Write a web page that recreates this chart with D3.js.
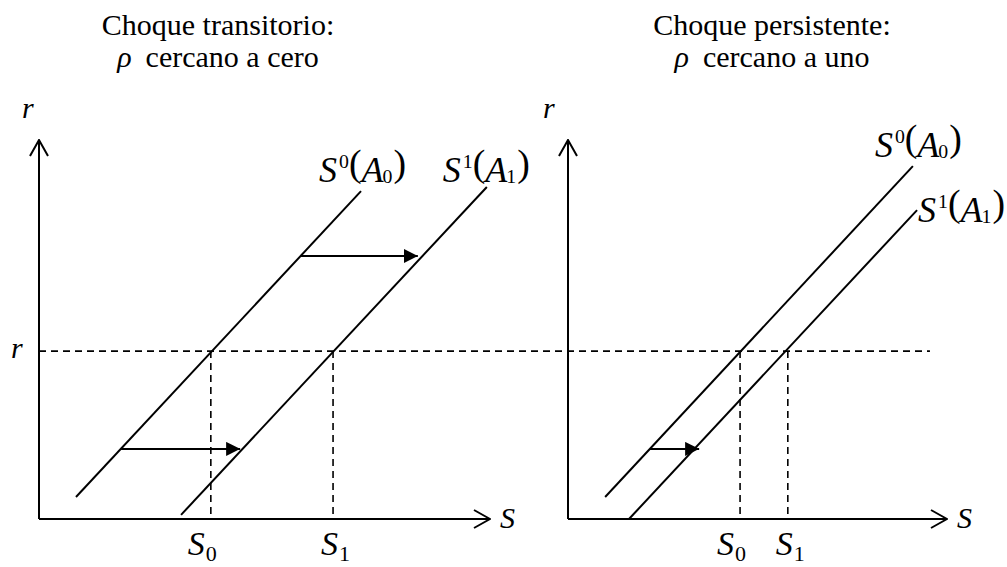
<!DOCTYPE html>
<html lang="es">
<head>
    <meta charset="UTF-8">
    <title>Choque transitorio vs persistente</title>
    <style>
        body { margin: 0; background: #fff; }
        .curve { fill: none; stroke: #000; stroke-width: 2; }
        .axis-line { fill: none; stroke: #000; stroke-width: 2; }
        .guide { fill: none; stroke: #000; stroke-width: 1.6; stroke-dasharray: 7,5; }
        .shift { fill: none; stroke: #000; stroke-width: 2; }
    </style>
</head>
<body>
    <svg width="1007" height="567"></svg>
    <script src="https://cdn.jsdelivr.net/npm/d3@7"></script>
    <script>
        // panel titles
        const titleTop = ["Choque transitorio:", "Choque persistente:"];
        const titleBottom = ["cercano a cero", "cercano a uno"];

        // interest rate level (same for both panels), axis units 0..100
        const rLevel = 44.3;

        // savings curves, [S, r] end points, one entry per panel
        const curveS0 = [[[8.2, 5.8], [71.4, 86.5]], [[9.8, 5.8], [91.0, 93.1]]];
        const curveS1 = [[[31.5, 1.1], [99.3, 87.6]], [[16.1, 0.0], [92.1, 81.5]]];

        // horizontal shift arrows: start S, end S, level r
        const shifts = [
            [{s0: 18.2, s1: 44.6, r: 18.5}, {s0: 58.1, s1: 84.0, r: 69.4}],
            [{s0: 21.6, s1: 34.6, r: 18.5}]
        ];

        // equilibrium savings S0, S1
        const eqS = [[38.1, 65.2], [45.4, 58.0]];

        // where the dashed r line stops in the right panel
        const rLineEnd = 95.5;

        const FONT = "\"Liberation Serif\", \"Times New Roman\", serif";
        const svg = d3.select("svg");

        const panelX = [[39, 490], [568, 947]];
        const y = d3.scaleLinear().domain([0, 100]).range([519, 140]);
        const xs = panelX.map(r => d3.scaleLinear().domain([0, 100]).range(r));

        const defs = svg.append("defs");
        defs.append("marker")
            .attr("id", "open")
            .attr("viewBox", "0 0 18 20")
            .attr("refX", 17).attr("refY", 10)
            .attr("markerWidth", 18).attr("markerHeight", 20)
            .attr("markerUnits", "userSpaceOnUse")
            .attr("orient", "auto")
            .append("path")
            .attr("d", "M1,1 L17,10 L1,19")
            .attr("fill", "none").attr("stroke", "#000").attr("stroke-width", 2);
        defs.append("marker")
            .attr("id", "solid")
            .attr("viewBox", "0 0 14 14")
            .attr("refX", 14).attr("refY", 7)
            .attr("markerWidth", 14).attr("markerHeight", 14)
            .attr("markerUnits", "userSpaceOnUse")
            .attr("orient", "auto")
            .append("path")
            .attr("d", "M0,0 L14,7 L0,14 Z")
            .attr("fill", "#000");

        const line = d3.line();

        function addText(x0, y0, size) {
            return svg.append("text")
                .attr("x", x0).attr("y", y0)
                .style("font-family", FONT)
                .style("font-size", size + "px");
        }

        // dashed r line across both panels
        svg.append("path")
            .attr("class", "guide")
            .attr("d", line([[xs[0](0), y(rLevel)], [xs[1](rLineEnd), y(rLevel)]]));

        // math label like S^0(A_0)
        function curveLabel(x0, y0, k) {
            const sz = 36;
            const t = addText(x0, y0, sz);
            t.append("tspan").style("font-style", "italic").text("S");
            t.append("tspan").style("font-size", sz * 0.55 + "px").attr("dx", 2).attr("dy", -sz * 0.4).text(k);
            t.append("tspan").style("font-size", sz * 1.05 + "px").attr("dx", 0).attr("dy", sz * 0.4 - sz * 0.18).text("(");
            t.append("tspan").style("font-style", "italic").attr("dy", sz * 0.18).text("A");
            t.append("tspan").style("font-size", sz * 0.55 + "px").attr("dx", -1).attr("dy", sz * 0.02).text(k);
            t.append("tspan").style("font-size", sz * 1.05 + "px").attr("dx", 1).attr("dy", -sz * 0.02 - sz * 0.18).text(")");
        }

        function subLabel(x0, y0, k) {
            const t = addText(x0, y0, 34);
            t.append("tspan").style("font-style", "italic").text("S");
            t.append("tspan").style("font-size", "22px").attr("dx", 1).attr("dy", 6).text(k);
        }

        const titleX = [218, 772];
        const labelPos = [
            [[-42, -9], [-44, -5]],
            [[-38, -9], [1, 12]]
        ];
        const rLabelX = [-17, -25];

        xs.forEach((x, i) => {
            // titles
            addText(titleX[i], 35, 30).style("text-anchor", "middle").text(titleTop[i]);
            const t2 = addText(titleX[i], 67, 30).style("text-anchor", "middle");
            t2.append("tspan").style("font-style", "italic").text("\u03C1");
            t2.append("tspan").attr("dx", 14).text(titleBottom[i]);

            // axes
            svg.append("path").attr("class", "axis-line")
                .attr("marker-end", "url(#open)")
                .attr("d", line([[x(0), y(0)], [x(0), y(100)]]));
            svg.append("path").attr("class", "axis-line")
                .attr("marker-end", "url(#open)")
                .attr("d", line([[x(0), y(0)], [x(100), y(0)]]));

            addText(x(0) + rLabelX[i], 118, 30).style("font-style", "italic").text("r");
            addText(x(100) + 10, y(0) + 9, 30).style("font-style", "italic").text("S");

            // savings curves
            [curveS0[i], curveS1[i]].forEach(c => {
                svg.append("path").attr("class", "curve")
                    .attr("d", line(c.map(p => [x(p[0]), y(p[1])])));
            });
            const top0 = curveS0[i][1], top1 = curveS1[i][1];
            curveLabel(x(top0[0]) + labelPos[i][0][0], y(top0[1]) + labelPos[i][0][1], "0");
            curveLabel(x(top1[0]) + labelPos[i][1][0], y(top1[1]) + labelPos[i][1][1], "1");

            // equilibrium guides
            eqS[i].forEach((s, j) => {
                svg.append("path").attr("class", "guide")
                    .attr("d", line([[x(s), y(rLevel)], [x(s), y(0)]]));
                subLabel(x(s) + (j === 0 ? -23 : -12), 555, String(j));
            });

            // shift arrows
            shifts[i].forEach(a => {
                svg.append("path").attr("class", "shift")
                    .attr("marker-end", "url(#solid)")
                    .attr("d", line([[x(a.s0), y(a.r)], [x(a.s1), y(a.r)]]));
            });
        });

        // r label on the dashed line
        addText(11, y(rLevel) + 7, 30).style("font-style", "italic").text("r");
    </script>
</body>
</html>
